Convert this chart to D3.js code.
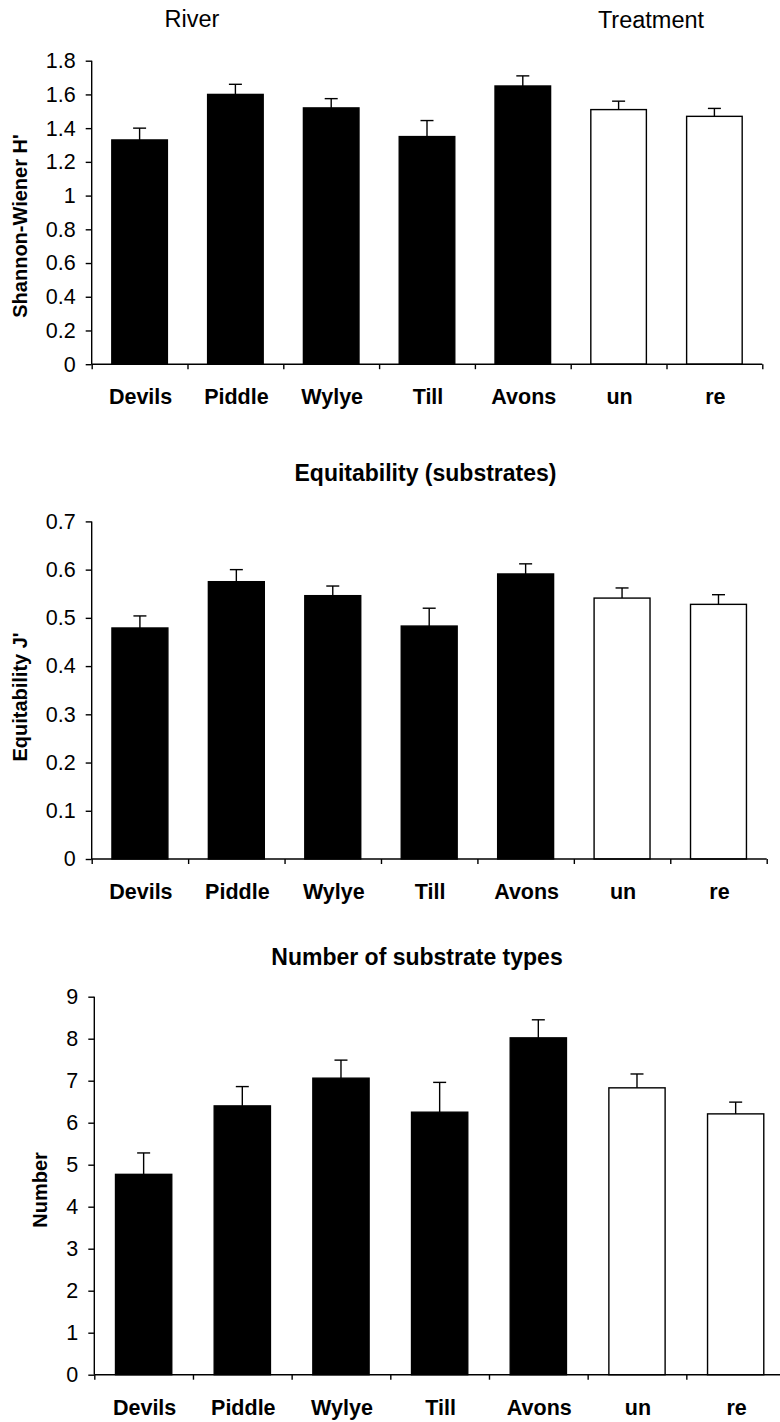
<!DOCTYPE html>
<html>
<head>
<meta charset="utf-8">
<script src="https://cdn.jsdelivr.net/npm/d3@7"></script>
<style>
  html, body { margin: 0; padding: 0; background: #fff; }
  svg { display: block; }
  text { font-family: "Liberation Sans", Arial, Helvetica, sans-serif; fill: #000; }
</style>
</head>
<body>
<svg id="chart" width="780" height="1422"></svg>
<script>
// Sites (five rivers) followed by the two treatments
const categories = ["Devils", "Piddle", "Wylye", "Till", "Avons", "un", "re"];
const groupOf = ["river", "river", "river", "river", "river", "treatment", "treatment"];

// Shannon-Wiener diversity of substrates (mean, SE)
const shannonMean = [1.33, 1.60, 1.52, 1.35, 1.65, 1.51, 1.47];
const shannonSE   = [0.07, 0.06, 0.055, 0.095, 0.06, 0.05, 0.047];
const shannonTicks = [0, 0.2, 0.4, 0.6, 0.8, 1, 1.2, 1.4, 1.6, 1.8];

// Equitability J' (mean, SE)
const equitMean = [0.479, 0.575, 0.546, 0.483, 0.591, 0.541, 0.528];
const equitSE   = [0.025, 0.025, 0.020, 0.037, 0.021, 0.021, 0.020];
const equitTicks = [0, 0.1, 0.2, 0.3, 0.4, 0.5, 0.6, 0.7];

// Number of substrate types (mean, SE)
const numberMean = [4.77, 6.40, 7.06, 6.25, 8.02, 6.83, 6.21];
const numberSE   = [0.51, 0.46, 0.43, 0.71, 0.43, 0.33, 0.28];
const numberTicks = [0, 1, 2, 3, 4, 5, 6, 7, 8, 9];

const svg = d3.select("#chart");
const FONT_TICK = 21.5, FONT_CAT = 21.5, FONT_TITLE = 23, FONT_YTITLE = 20;
const LW = 1.4;

function panel(cfg) {
  const g = svg.append("g");
  const x = d3.scaleBand().domain(categories).range([cfg.x0, cfg.x1])
    .paddingInner(cfg.pad).paddingOuter(cfg.pad / 2);
  const edge = d3.scaleLinear().domain([0, categories.length]).range([cfg.x0, cfg.x1]);
  const y = d3.scaleLinear().domain([0, cfg.max]).range([cfg.yBottom, cfg.yTop]);

  // bars
  g.selectAll("rect.bar").data(categories).join("rect")
    .attr("class", "bar")
    .attr("x", d => x(d))
    .attr("width", x.bandwidth())
    .attr("y", (d, i) => y(cfg.mean[i]))
    .attr("height", (d, i) => y(0) - y(cfg.mean[i]))
    .attr("fill", (d, i) => groupOf[i] === "river" ? "#000" : "#fff")
    .attr("stroke", "#000")
    .attr("stroke-width", LW);

  // upper error bars
  const eb = g.selectAll("g.err").data(categories).join("g").attr("class", "err")
    .attr("stroke", "#000").attr("stroke-width", LW);
  eb.append("line")
    .attr("x1", d => x(d) + x.bandwidth() / 2)
    .attr("x2", d => x(d) + x.bandwidth() / 2)
    .attr("y1", (d, i) => y(cfg.mean[i]))
    .attr("y2", (d, i) => y(cfg.mean[i] + cfg.se[i]));
  eb.append("line")
    .attr("x1", d => x(d) + x.bandwidth() / 2 - 6.5)
    .attr("x2", d => x(d) + x.bandwidth() / 2 + 6.5)
    .attr("y1", (d, i) => y(cfg.mean[i] + cfg.se[i]))
    .attr("y2", (d, i) => y(cfg.mean[i] + cfg.se[i]));

  // y axis
  const ya = g.append("g").attr("transform", `translate(${cfg.x0},0)`)
    .call(d3.axisLeft(y).tickValues(cfg.ticks).tickSize(6).tickPadding(10)
      .tickFormat(d => String(+d.toFixed(2))));
  ya.select(".domain").attr("d", `M0,${cfg.yTop}V${cfg.yBottom}`);
  ya.selectAll("path,line").attr("stroke", "#000").attr("stroke-width", LW);
  ya.selectAll("text").attr("font-size", FONT_TICK).attr("font-family", null).attr("fill", "#000");

  // x axis: boundary ticks plus centred category labels
  const xa = g.append("g").attr("transform", `translate(0,${cfg.yBottom})`)
    .call(d3.axisBottom(edge).tickValues(d3.range(categories.length + 1)).tickSize(5).tickFormat(""));
  xa.select(".domain").attr("d", `M${cfg.x0},0H${cfg.x1}`);
  xa.selectAll("path,line").attr("stroke", "#000").attr("stroke-width", LW);

  g.selectAll("text.cat").data(categories).join("text")
    .attr("class", "cat")
    .attr("x", d => x(d) + x.bandwidth() / 2 + 1)
    .attr("y", cfg.yBottom + 40)
    .attr("text-anchor", "middle")
    .attr("font-weight", "bold")
    .attr("font-size", FONT_CAT)
    .text(d => d);

  // y axis title
  g.append("text")
    .attr("transform", `translate(${cfg.yTitleX},${cfg.yTitleY}) rotate(-90)`)
    .attr("text-anchor", "middle")
    .attr("font-weight", "bold")
    .attr("font-size", FONT_YTITLE)
    .text(cfg.yTitle);

  if (cfg.title) {
    g.append("text")
      .attr("x", cfg.titleX).attr("y", cfg.titleY)
      .attr("text-anchor", "middle")
      .attr("font-weight", "bold")
      .attr("font-size", FONT_TITLE)
      .text(cfg.title);
  }
}

// Group headers above the first panel
svg.append("text").attr("x", 192).attr("y", 27).attr("text-anchor", "middle")
  .attr("font-size", 23.5).text("River");
svg.append("text").attr("x", 651).attr("y", 28).attr("text-anchor", "middle")
  .attr("font-size", 23.5).text("Treatment");

panel({
  mean: shannonMean, se: shannonSE, ticks: shannonTicks, max: 1.8,
  x0: 91.7, x1: 762.3, yTop: 60.7, yBottom: 364.2, pad: 0.42,
  yTitle: "Shannon-Wiener H'", yTitleX: 27, yTitleY: 226
});

panel({
  mean: equitMean, se: equitSE, ticks: equitTicks, max: 0.7,
  x0: 91.7, x1: 766.7, yTop: 521.4, yBottom: 859, pad: 0.42,
  yTitle: "Equitability J'", yTitleX: 27, yTitleY: 697,
  title: "Equitability (substrates)", titleX: 425.5, titleY: 481
});

panel({
  mean: numberMean, se: numberSE, ticks: numberTicks, max: 9,
  x0: 94.3, x1: 785, yTop: 996.7, yBottom: 1374.7, pad: 0.43,
  yTitle: "Number", yTitleX: 46.5, yTitleY: 1190,
  title: "Number of substrate types", titleX: 417, titleY: 965
});
</script>
</body>
</html>
